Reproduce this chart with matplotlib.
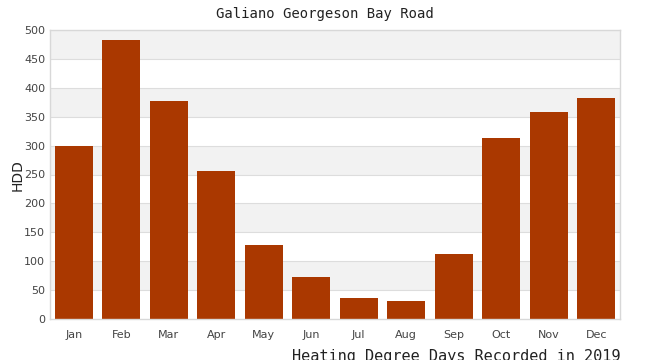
import numpy as np
import matplotlib.pyplot as plt

months = ["Jan", "Feb", "Mar", "Apr", "May", "Jun", "Jul", "Aug", "Sep", "Oct", "Nov", "Dec"]
hdd = [299, 483, 377, 256, 128, 73, 36, 31, 112, 313, 358, 382]
yticks = [0, 50, 100, 150, 200, 250, 300, 350, 400, 450, 500]

fig = plt.figure(figsize=(6.5, 3.6), dpi=100)
ax = fig.add_axes([50 / 650, 41 / 360, 570 / 650, 289 / 360])

# alternating bands between gridlines
for i in range(len(yticks) - 1):
    if i % 2 == 1:
        ax.axhspan(yticks[i], yticks[i + 1], color="#f2f2f2", zorder=0, lw=0)
for y in yticks[1:-1]:
    ax.axhline(y, color="#dddddd", lw=0.8, zorder=1)

x = np.arange(len(months))
ax.bar(x, hdd, width=0.79, color="#aa3800", zorder=2)

ax.set_xlim(-0.5, 11.5)
ax.set_ylim(0, 500)
ax.set_xticks(x)
ax.set_xticklabels(months)
ax.set_yticks(yticks)
ax.tick_params(axis="both", length=0, labelsize=8, colors="#444444")
ax.tick_params(axis="x", pad=8)
for s in ax.spines.values():
    s.set_color("#d8d8d8")
    s.set_linewidth(1)

fig.text(325 / 650, 1 - 14 / 360, "Galiano Georgeson Bay Road", family="DejaVu Sans Mono",
         fontsize=10, ha="center", va="center", color="#222222")
fig.text(18 / 650, 1 - 175 / 360, "HDD", rotation=90, fontsize=10, ha="center",
         va="center", color="#222222")
fig.text(620 / 650, 1 - 357 / 360, "Heating Degree Days Recorded in 2019",
         family="DejaVu Sans Mono", fontsize=11, ha="right", va="center", color="#222222")

fig.savefig("out.png", dpi=100)
